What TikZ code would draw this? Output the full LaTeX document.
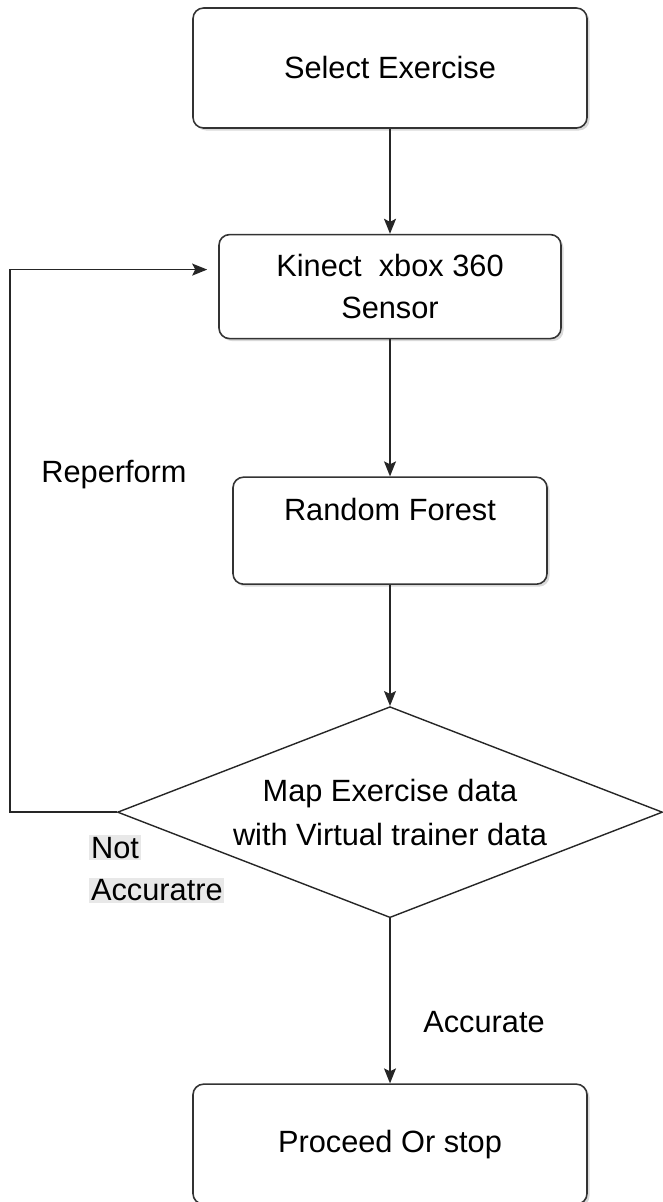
\documentclass[tikz,border=0pt]{standalone}
\usepackage{fontspec}
\setmainfont{Liberation Sans}
\usetikzlibrary{positioning,shapes.geometric,arrows.meta,shadows}

\definecolor{hlgray}{RGB}{232,232,232}

\begin{document}
\begin{tikzpicture}[
    % Rounded process boxes with a soft shadow
    box/.style={rectangle, draw=black!80, fill=white, rounded corners=6pt,
                line width=0.9pt, align=center, inner sep=2pt,
                font=\fontsize{17.5}{24}\selectfont,
                drop shadow={shadow xshift=0.05cm, shadow yshift=-0.05cm, opacity=0.3}},
    decision/.style={diamond, draw=black!85, fill=white, line width=0.8pt,
                align=center, inner sep=0pt, aspect=2.6,
                minimum width=10.9cm, minimum height=4.22cm,
                font=\fontsize{17.5}{25}\selectfont},
    lbl/.style={font=\fontsize{17.5}{24}\selectfont, inner sep=0pt},
    % Arrows
    arrow/.style={-{Stealth[length=3mm,width=2.4mm,inset=0.6mm]}, line width=0.8pt, black!85},
    node distance=2.1cm
]

% Page frame
\useasboundingbox (0,0) rectangle (13.24,-24.04);

% Main column
\node[box, minimum width=7.88cm, minimum height=2.4cm] (select) at (7.8,-1.36) {Select Exercise};
\node[box, minimum width=6.84cm, minimum height=2.08cm, below=2.1cm of select] (kinect) {Kinect\ \ xbox 360\\Sensor};
\node[box, minimum width=6.28cm, minimum height=2.14cm, below=2.74cm of kinect] (forest) {Random Forest\\\mbox{}};
\node[decision, below=2.42cm of forest] (match) {Map Exercise data\\with Virtual trainer data};
\node[box, minimum width=7.88cm, minimum height=2.4cm, below=3.3cm of match] (finish) {Proceed Or stop};

% Labels
\node[lbl, anchor=west] (redo) at (0.82,-9.5) {Reperform};
\node[lbl, anchor=west, align=left] (notok) at (1.78,-17.38)
    {\setlength{\fboxsep}{1pt}\colorbox{hlgray}{Not}\\\setlength{\fboxsep}{1pt}\colorbox{hlgray}{Accuratre}};
\node[lbl, anchor=west] (ok) at (8.46,-20.44) {Accurate};

% Main flow arrows
\draw[arrow] (select) -- (kinect);
\draw[arrow] (kinect) -- (forest);
\draw[arrow] (forest) -- (match);
\draw[arrow] (match) -- (finish);

% Loop back when not accurate
\coordinate (back) at (0.2,0);
\draw[arrow, shorten >=0.22cm] (match.west) -| (back |- match.west) |- ([yshift=0.34cm]kinect.west);

\end{tikzpicture}
\end{document}
